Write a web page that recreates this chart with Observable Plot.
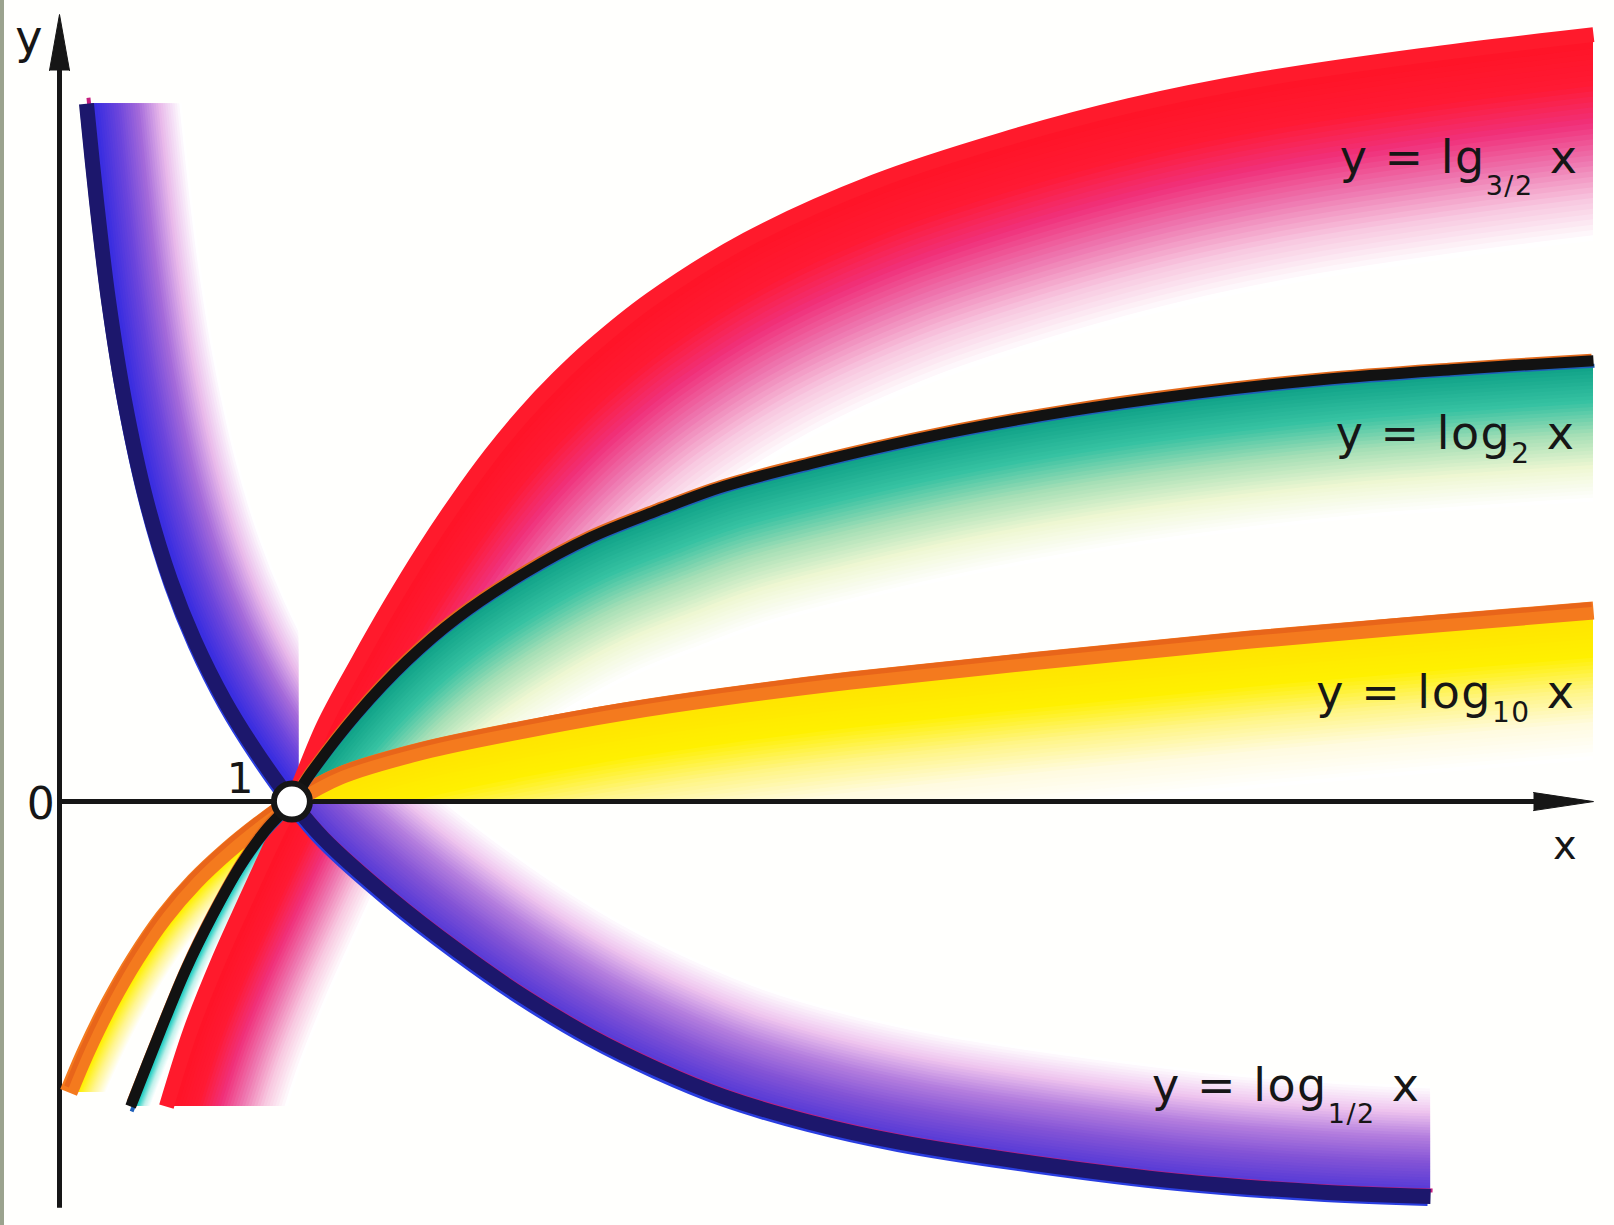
<!DOCTYPE html>
<html>
<head>
<meta charset="utf-8">
<script src="https://cdn.jsdelivr.net/npm/d3@7"></script>
<script src="https://cdn.jsdelivr.net/npm/@observablehq/plot@0.6"></script>
<style>
  html, body { margin: 0; padding: 0; background: #ffffff; }
  #chart { position: relative; width: 1614px; height: 1225px; background: #fffffd; overflow: hidden; }
  #chart svg { position: absolute; left: 0; top: 0; }
  #edge { position: absolute; left: 0; top: 0; width: 4px; height: 1225px; background: #9ba38e; z-index: 5; }
</style>
</head>
<body>
<div id="chart"><div id="edge"></div></div>
<script>
// ---------- data (x in units where the common point is x = 1) ----------
const log12X = [0.116, 0.159, 0.211, 0.280, 0.374, 0.478, 0.581, 0.710, 0.843, 1, 1.136, 1.424, 1.713, 1.997, 2.285, 2.573, 2.857, 3.231, 3.619, 4.195, 4.824, 5.456, 5.899];
const log12Y = [4.256, 3.665, 3.055, 2.445, 1.835, 1.348, 0.982, 0.616, 0.311, 0, -0.226, -0.591, -0.909, -1.189, -1.433, -1.634, -1.799, -1.957, -2.079, -2.207, -2.317, -2.384, -2.409];

const log32X = [0.460, 0.564, 0.684, 0.800, 0.899, 1, 1.136, 1.282, 1.424, 1.566, 1.713, 1.855, 1.997, 2.143, 2.285, 2.543, 2.956, 3.507, 4.058, 4.604, 5.155, 5.856, 6.6];
const log32Y = [-1.860, -1.396, -0.970, -0.604, -0.299, 0, 0.463, 0.848, 1.201, 1.530, 1.841, 2.116, 2.360, 2.579, 2.768, 3.061, 3.427, 3.780, 4.037, 4.244, 4.402, 4.549, 4.677];

const log2X = [0.306, 0.435, 0.542, 0.658, 0.779, 0.886, 1, 1.080, 1.282, 1.497, 1.713, 1.997, 2.285, 2.573, 2.857, 3.231, 3.782, 4.329, 4.880, 5.426, 5.985, 6.6];
const log2Y = [-1.860, -1.396, -1.030, -0.695, -0.390, -0.177, 0, 0.171, 0.537, 0.860, 1.122, 1.390, 1.610, 1.774, 1.921, 2.061, 2.238, 2.378, 2.488, 2.573, 2.634, 2.689];

const log10X = [0.039, 0.116, 0.215, 0.327, 0.448, 0.581, 0.718, 0.856, 1, 1.209, 1.566, 1.997, 2.427, 2.857, 3.404, 4.174, 5.125, 6.6];
const log10Y = [-1.774, -1.518, -1.232, -0.957, -0.707, -0.488, -0.305, -0.146, 0, 0.159, 0.311, 0.439, 0.549, 0.640, 0.738, 0.854, 0.988, 1.165];

const curveLabels = ["y = lg_{3/2} x", "y = log_{2} x", "y = log_{10} x", "y = log_{1/2} x"];
const axisLabels = ["0", "1", "x", "y"];

const xDomain = [0, 6.6];
const yDomain = [-2.5, 4.8];
const yAxisBottom = -2.48;

// ---------- helpers ----------
const W = 1614, H = 1225;
const rowsOf = (X, Y) => X.map((x, i) => ({x, y: Y[i]}));
const log12 = rowsOf(log12X, log12Y);
const log32 = rowsOf(log32X, log32Y);
const log2 = rowsOf(log2X, log2Y);
const log10 = rowsOf(log10X, log10Y);
const lo = rows => rows.filter(d => d.x <= 1);
const hi = rows => rows.filter(d => d.x >= 1);
const last = rows => rows[rows.length - 1];
const FONT = "DejaVu Sans";
const INK = "#161616";

// ---------- main layer: axes, curves, point, labels ----------
const lineOpts = {x: "x", y: "y", curve: "catmull-rom", strokeLinecap: "butt", strokeLinejoin: "round"};
const labelOpts = {x: "x", y: "y", text: "t", textAnchor: "end", lineAnchor: "bottom", fontSize: 46, fontFamily: FONT, fill: INK};
const tickOpts = {x: "x", y: "y", text: "t", textAnchor: "middle", lineAnchor: "bottom", fontFamily: FONT, fill: INK};
const main = Plot.plot({
  width: W, height: H,
  marginLeft: 59, marginRight: 21, marginTop: 14, marginBottom: 14,
  x: {domain: xDomain, axis: null},
  y: {domain: yDomain, axis: null},
  style: {background: "transparent", overflow: "visible", letterSpacing: "1.5px"},
  marks: [
    // axes
    Plot.ruleY([0], {x1: xDomain[0], x2: xDomain[1] - 0.12, stroke: INK, strokeWidth: 5}),
    Plot.ruleX([0], {y1: yAxisBottom, y2: yDomain[1] - 0.2, stroke: INK, strokeWidth: 5}),
    Plot.vector([{x: xDomain[1], y: 0}], {x: "x", y: "y", shape: "spike", anchor: "end", rotate: 90, length: 60, r: 9, fill: INK, stroke: INK, strokeWidth: 1}),
    Plot.vector([{x: 0, y: yDomain[1]}], {x: "x", y: "y", shape: "spike", anchor: "end", rotate: 0, length: 56, r: 10, fill: INK, stroke: INK, strokeWidth: 1}),
    // log10
    Plot.line(log10, {...lineOpts, stroke: "#f47a1e", strokeWidth: 18}),
    Plot.line(log10, {...lineOpts, stroke: "#e8651a", strokeWidth: 5, dy: -6, dx: -2}),
    // log 3/2
    Plot.line(log32, {...lineOpts, stroke: "#ff1a2c", strokeWidth: 15}),
    // log2
    Plot.line(log2, {...lineOpts, stroke: "#e36a1c", strokeWidth: 4, dx: -2, dy: -5}),
    Plot.line(log2, {...lineOpts, stroke: "#1f5fb8", strokeWidth: 4, dx: 1, dy: 5}),
    Plot.line(log2, {...lineOpts, stroke: "#121212", strokeWidth: 11}),
    // log 1/2
    Plot.line(log12, {...lineOpts, stroke: "#2a3ee0", strokeWidth: 7, dx: -3, dy: 6}),
    Plot.line(log12, {...lineOpts, stroke: "#c41f7e", strokeWidth: 4, dx: 2, dy: -6}),
    Plot.line(log12, {...lineOpts, stroke: "#1c176c", strokeWidth: 15}),
    // common point (1, 0)
    Plot.dot([{x: 1, y: 0}], {x: "x", y: "y", r: 18, fill: "white", stroke: INK, strokeWidth: 6}),
    // curve labels
    Plot.text([{...last(log32), t: curveLabels[0]}], {...labelOpts, dx: -15, dy: 138}),
    Plot.text([{...last(log2), t: curveLabels[1]}], {...labelOpts, dx: -18, dy: 88}),
    Plot.text([{...last(log10), t: curveLabels[2]}], {...labelOpts, dx: -18, dy: 97}),
    Plot.text([{...last(log12), t: curveLabels[3]}], {...labelOpts, dx: -10, dy: -96}),
    // axis labels
    Plot.text([{x: 0, y: 0, t: axisLabels[0]}], {...tickOpts, dx: -18, dy: 17, fontSize: 44}),
    Plot.text([{x: 1, y: 0, t: axisLabels[1]}], {...tickOpts, dx: -51, dy: -9, fontSize: 42}),
    Plot.text([{x: xDomain[1], y: 0, t: axisLabels[2]}], {...tickOpts, dx: -28, dy: 57, fontSize: 40}),
    Plot.text([{x: 0, y: yDomain[1], t: axisLabels[3]}], {...tickOpts, dx: -30, dy: 38, fontSize: 46})
  ]
});

// subscripts: rebuild "_{...}" as tspans
const NS = "http://www.w3.org/2000/svg";
main.querySelectorAll("text").forEach(el => {
  const m = el.textContent.match(/^(.*)_\{(.*)\}(.*)$/);
  if (!m) return;
  const frac = m[2].includes("/");
  const shift = frac ? 22 : 14;
  el.textContent = "";
  el.setAttribute("xml:space", "preserve");
  const a = document.createElementNS(NS, "tspan"); a.textContent = m[1];
  const b = document.createElementNS(NS, "tspan"); b.textContent = m[2];
  b.setAttribute("font-size", frac ? 27 : 28); b.setAttribute("dy", shift);
  const c = document.createElementNS(NS, "tspan"); c.textContent = m[3];
  c.setAttribute("dy", -shift);
  el.append(a, b, c);
});

// ---------- gradient bands, each clipped to its piece's frame ----------
const sx = main.scale("x"), sy = main.scale("y");
function band(rows, dir, start, width, stops, padX = 0) {
  const [x0, x1r] = d3.extent(rows, d => d.x);
  const x1 = x1r + padX;
  const [y0, y1] = d3.extent(rows, d => d.y);
  const N = 36;
  const color = d3.piecewise(d3.interpolateRgb, stops);
  const marks = [];
  for (let k = N; k >= 0; k--) {
    const t = k / N;
    const off = start + width * t;
    marks.push(Plot.line(rows, {x: "x", y: "y", curve: "catmull-rom", stroke: color(t),
      strokeWidth: width / N * 2.2 + 2, dx: dir[0] * off, dy: dir[1] * off, clip: true, strokeLinecap: "butt"}));
  }
  return Plot.plot({
    width: W, height: H,
    marginLeft: sx.apply(x0), marginRight: W - sx.apply(x1),
    marginTop: sy.apply(y1), marginBottom: H - sy.apply(y0),
    x: {domain: [x0, x1], axis: null},
    y: {domain: [y0, y1], axis: null},
    style: {background: "transparent"},
    marks
  });
}

const red = ["#ff1428", "#ff1a34", "#f0307a", "#ee78b0", "#f8c8e0", "#ffffff"];
const green = ["#12a489", "#36c2a2", "#a6dfb6", "#eef7d2", "#ffffff"];
const yellow = ["#ffe600", "#fff000", "#fff585", "#fffbe0", "#ffffff"];
const violetLo = ["#3a2ee0", "#6a44dc", "#a46ada", "#e8b8ea", "#ffffff"];
const violetHi = ["#5a3cd6", "#8454d6", "#b47ede", "#eec4ee", "#ffffff"];

const chart = document.getElementById("chart");
[
  band(hi(log32), [0.3, 0.95], 7, 195, red),
  band(hi(log2), [0.3, 0.95], 5, 135, green),
  band(hi(log10), [0.08, 1], 8, 135, yellow),
  band(lo(log10), [0.8, 0.6], 8, 26, ["#fff000", "#fff590", "#ffffff"]),
  band(lo(log2), [0.95, 0.3], 5, 12, ["#26cfc4", "#bff0ea", "#ffffff"]),
  band(lo(log32), [0.95, 0.3], 7, 105, red, 0.35),
  band(lo(log12), [0.9, -0.42], 7, 90, violetLo, 0.03),
  band(hi(log12), [0.35, -0.94], 7, 105, violetHi)
].forEach(svg => chart.appendChild(svg));
chart.appendChild(main);
</script>
</body>
</html>
